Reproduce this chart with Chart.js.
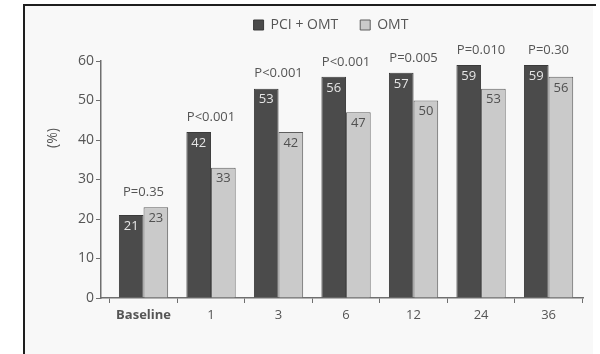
<!DOCTYPE html>
<html>
<head>
<meta charset="utf-8">
<script src="https://cdn.jsdelivr.net/npm/chart.js@4/dist/chart.umd.min.js"></script>
<style>
  html, body { margin: 0; padding: 0; background: #ffffff; }
  #wrap { width: 600px; height: 354px; position: relative; }
</style>
</head>
<body>
<div id="wrap"><canvas id="c"></canvas></div>
<script>
// ---- data ----
const categories = ['Baseline', '1', '3', '6', '12', '24', '36'];
const pciOmt = [21, 42, 53, 56, 57, 59, 59];
const omt = [23, 33, 42, 47, 50, 53, 56];
const pValues = ['P=0.35', 'P<0.001', 'P<0.001', 'P<0.001', 'P=0.005', 'P=0.010', 'P=0.30'];
const seriesNames = ['PCI + OMT', 'OMT'];
const yTicks = [0, 10, 20, 30, 40, 50, 60];

const FONT = "'Open Sans', 'DejaVu Sans', sans-serif";
const TEXT = '#555555';
const AXIS = '#6f6f6f';

const framePlugin = {
  id: 'frame',
  beforeUpdate(chart) {
    const lg = chart.legend;
    if (lg && !lg._fitWrapped) {
      const orig = lg.fit;
      lg.fit = function () { orig.call(this); this.height += 15; };
      lg._fitWrapped = true;
    }
  },
  afterLayout(chart) {
    const lg = chart.legend;
    if (lg) { lg.left -= 11; lg.right -= 11; lg.top -= 4; lg.bottom -= 4; }
  },
  beforeDraw(chart) {
    const ctx = chart.ctx;
    ctx.save();
    ctx.fillStyle = '#ffffff';
    ctx.fillRect(0, 0, chart.width, chart.height);
    ctx.fillStyle = '#f8f8f8';
    ctx.fillRect(25, 6, 568, chart.height - 6);
    ctx.strokeStyle = '#1e1e1e';
    ctx.lineWidth = 2;
    ctx.beginPath();
    ctx.moveTo(24, chart.height);
    ctx.lineTo(24, 5);
    ctx.lineTo(596, 5);
    ctx.stroke();
    ctx.restore();
  }
};

const labelPlugin = {
  id: 'labels',
  afterDatasetsDraw(chart) {
    const ctx = chart.ctx;
    ctx.save();
    ctx.textAlign = 'center';
    ctx.textBaseline = 'middle';
    ctx.font = '13px ' + FONT;
    chart.data.datasets.forEach((ds, di) => {
      const meta = chart.getDatasetMeta(di);
      meta.data.forEach((bar, i) => {
        ctx.fillStyle = di === 0 ? '#e6e6e6' : '#505050';
        ctx.fillText(String(ds.data[i].y), bar.x, bar.y + 11);
      });
    });
    // P values above each group
    const m0 = chart.getDatasetMeta(0), m1 = chart.getDatasetMeta(1);
    ctx.fillStyle = TEXT;
    categories.forEach((c, i) => {
      const cx = (m0.data[i].x + m1.data[i].x) / 2;
      const top = Math.min(m0.data[i].y, m1.data[i].y);
      ctx.fillText(pValues[i], cx, top - 15);
    });
    // y axis title
    ctx.font = '14px ' + FONT;
    ctx.translate(53, 138);
    ctx.rotate(-Math.PI / 2);
    ctx.fillText('(%)', 0, 0);
    ctx.restore();
  }
};

new Chart(document.getElementById('c'), {
  type: 'bar',
  data: {
    datasets: [
      {
        label: seriesNames[0],
        data: pciOmt.map((v, i) => ({ x: i, y: v })),
        backgroundColor: '#4b4b4b',
        borderColor: '#3a3a3a',
        borderWidth: 1,
        categoryPercentage: 0.73,
        barPercentage: 1.0
      },
      {
        label: seriesNames[1],
        data: omt.map((v, i) => ({ x: i, y: v })),
        backgroundColor: '#cacaca',
        borderColor: '#5e5e5e',
        borderWidth: 1,
        categoryPercentage: 0.73,
        barPercentage: 1.0
      }
    ]
  },
  options: {
    responsive: true,
    maintainAspectRatio: false,
    animation: false,
    layout: { padding: { left: 0, right: 17, top: 0, bottom: 0 } },
    plugins: {
      legend: {
        display: true,
        position: 'top',
        fullSize: false,
        labels: {
          font: { family: FONT, size: 14 },
          color: TEXT,
          boxWidth: 10,
          boxHeight: 10,
          padding: 22
        }
      },
      tooltip: { enabled: false }
    },
    scales: {
      x: {
        type: 'linear',
        min: -0.63,
        max: 6.51,
        offset: false,
        afterBuildTicks(scale) { scale.ticks = categories.map((c, i) => ({ value: i })); },
        afterFit(scale) { scale.height = 56; },
        ticks: {
          autoSkip: false,
          maxRotation: 0,
          color: TEXT,
          padding: 4,
          font: (ctx) => ({ family: FONT, size: 13, weight: ctx.index === 0 ? 'bold' : 'normal' }),
          callback: (v) => categories[v]
        },
        grid: { display: true, drawOnChartArea: false, drawTicks: true, tickLength: 5, color: AXIS, lineWidth: 1 },
        border: { display: true, color: AXIS, width: 1.5 }
      },
      y: {
        min: 0,
        max: 60,
        afterBuildTicks(scale) { scale.ticks = yTicks.map(v => ({ value: v })); },
        afterFit(scale) { scale.width = 101; },
        ticks: { color: TEXT, padding: 2, font: { family: FONT, size: 14 } },
        grid: { display: true, drawOnChartArea: false, drawTicks: true, tickLength: 5, color: AXIS, lineWidth: 1 },
        border: { display: true, color: AXIS, width: 1.5 }
      }
    }
  },
  plugins: [framePlugin, labelPlugin]
});
</script>
</body>
</html>
